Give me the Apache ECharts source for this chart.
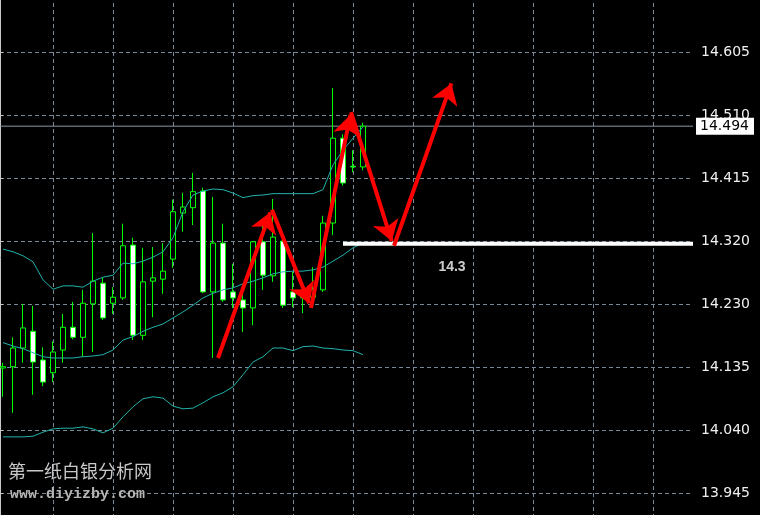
<!DOCTYPE html>
<html><head><meta charset="utf-8">
<script src="https://cdn.jsdelivr.net/npm/echarts@6.0.0/dist/echarts.min.js"></script>
<style>html,body{margin:0;padding:0;background:#000}#c{width:760px;height:515px}</style>
</head><body><div id="c"></div>
<script>
// ---- data ----
const slotCount = 70; // bar slots across the plot (37 bars + empty future space)
const candleOpen  = [14.132,14.134,14.162,14.187,14.144,14.125,14.159,14.193,14.178,14.228,14.259,14.229,14.237,14.316,14.181,14.262,14.265,14.295,14.364,14.372,14.397,14.246,14.319,14.246,14.234,14.222,14.321,14.270,14.322,14.246,14.237,14.238,14.249,14.349,14.476,14.434,14.433];
const candleClose = [14.134,14.162,14.192,14.141,14.111,14.156,14.193,14.178,14.229,14.262,14.207,14.238,14.315,14.181,14.261,14.267,14.277,14.366,14.373,14.396,14.246,14.319,14.234,14.237,14.222,14.321,14.271,14.328,14.226,14.237,14.238,14.249,14.349,14.476,14.409,14.433,14.494];
const candleLow   = [14.089,14.065,14.140,14.092,14.105,14.111,14.140,14.175,14.149,14.156,14.204,14.213,14.234,14.174,14.174,14.208,14.243,14.282,14.336,14.346,14.244,14.147,14.231,14.222,14.186,14.196,14.249,14.261,14.222,14.223,14.214,14.234,14.246,14.331,14.405,14.425,14.428];
const candleHigh  = [14.140,14.178,14.228,14.225,14.163,14.172,14.213,14.231,14.249,14.334,14.267,14.253,14.348,14.327,14.312,14.313,14.319,14.384,14.394,14.424,14.402,14.388,14.348,14.288,14.243,14.322,14.351,14.385,14.328,14.276,14.246,14.283,14.360,14.551,14.482,14.458,14.499];
const bandUpper   = [14.310,14.306,14.300,14.291,14.264,14.250,14.255,14.255,14.253,14.262,14.268,14.271,14.289,14.288,14.292,14.298,14.306,14.327,14.366,14.391,14.397,14.400,14.399,14.394,14.387,14.390,14.391,14.393,14.393,14.393,14.393,14.393,14.399,14.436,14.458,14.476,14.493];
const bandMiddle  = [14.170,14.165,14.161,14.155,14.149,14.147,14.147,14.147,14.149,14.150,14.152,14.159,14.174,14.179,14.187,14.193,14.198,14.207,14.216,14.226,14.237,14.244,14.249,14.252,14.258,14.262,14.267,14.273,14.276,14.277,14.277,14.279,14.283,14.292,14.301,14.312,14.319];
const bandLower   = [14.029,14.029,14.029,14.030,14.036,14.041,14.042,14.042,14.044,14.041,14.035,14.042,14.059,14.074,14.086,14.089,14.087,14.075,14.071,14.072,14.080,14.089,14.095,14.104,14.122,14.141,14.149,14.162,14.162,14.158,14.164,14.165,14.162,14.161,14.159,14.158,14.152];
const yTickLabels = ['13.945','14.040','14.135','14.230','14.320','14.415','14.510','14.605'];
const lastPrice = 14.494;
const supportLevel = 14.318;
const supportStart = 34.0;
const supportText = '14.3';
const supportTextPos = [44.9, 14.283];
// arrow segments: [bar position, price] start -> end
const arrowSegments = [
  [[21.5, 14.147], [26.73, 14.365]],
  [[26.9, 14.369], [30.62, 14.229]],
  [[30.8, 14.222], [34.74, 14.511]],
  [[34.8, 14.515], [38.87, 14.322]],
  [[39.1, 14.315], [44.84, 14.558]]
];
const watermarkTitle = '第一纸白银分析网';
const watermarkUrl = 'www.diyizby.com';

// ---- axis scale ----
const yStep = (14.605 - 13.945) / 7;
const yMin = 13.945 - yStep;
const yMax = 14.605 + yStep;

const slots = Array.from({length: slotCount}, (_, i) => 'b' + i);
const candles = candleOpen.map((o, i) => [o, candleClose[i], candleLow[i], candleHigh[i]]);

const gridCommon = {top: -11, bottom: -41, containLabel: false, outerBoundsMode: 'none'};
const gridColor = '#778899';
const font = 'DejaVu Sans';

const chart = echarts.init(document.getElementById('c'), null, {renderer: 'canvas'});
chart.setOption({
  backgroundColor: '#000',
  animation: false,
  grid: [
    Object.assign({left: 3, right: 67}, gridCommon),
    Object.assign({left: 0, right: 67}, gridCommon),
    Object.assign({left: -7, right: 67}, gridCommon)
  ],
  xAxis: [
    {type: 'category', gridIndex: 0, data: slots, boundaryGap: false, show: false},
    {type: 'value', gridIndex: 1, min: 0, max: 1, show: false},
    {type: 'value', gridIndex: 2, min: -1, max: slotCount - 1, interval: 6,
     axisLine: {show: false}, axisTick: {show: false}, axisLabel: {show: false},
     splitLine: {show: true, showMinLine: false, showMaxLine: false, lineStyle: {color: gridColor, type: [4, 3], width: 1}}}
  ],
  yAxis: [
    {type: 'value', gridIndex: 0, min: yMin, max: yMax, show: false},
    {type: 'value', gridIndex: 1, position: 'right', min: yMin, max: yMax, interval: yStep,
     axisLine: {show: true, lineStyle: {color: '#c8c8c8', width: 1}},
     axisTick: {show: true, length: 3, lineStyle: {color: '#c8c8c8'}},
     axisLabel: {show: true, margin: 8, color: '#f0f0f0', fontFamily: font, fontSize: 14,
       formatter: v => yTickLabels[Math.round((v - yMin) / yStep) - 1] || ''},
     splitLine: {show: true, lineStyle: {color: gridColor, type: [4, 3], width: 1}}},
    {type: 'value', gridIndex: 2, min: yMin, max: yMax, show: false}
  ],
  graphic: [
    {type: 'text', x: 8, y: 471, z: 100,
     style: {text: watermarkTitle, fill: '#c8c8c8', font: '18px "Noto Sans CJK SC"', verticalAlign: 'middle'}},
    {type: 'text', x: 10, y: 494, z: 100,
     style: {text: watermarkUrl, fill: '#b4b4b4', font: 'bold 15px "Liberation Mono"', verticalAlign: 'middle'}}
  ],
  series: [
    {type: 'candlestick', xAxisIndex: 0, yAxisIndex: 0, data: candles, barWidth: 5, z: 2,
     itemStyle: {color: '#000', color0: '#fff', borderColor: '#00ff00', borderColor0: '#00ff00', borderColorDoji: '#00ff00', borderWidth: 1}},
    {type: 'line', xAxisIndex: 0, yAxisIndex: 0, data: bandUpper, symbol: 'none', z: 3,
     lineStyle: {color: '#20b2aa', width: 1}},
    {type: 'line', xAxisIndex: 0, yAxisIndex: 0, data: bandMiddle, symbol: 'none', z: 3,
     lineStyle: {color: '#20b2aa', width: 1}},
    {type: 'line', xAxisIndex: 0, yAxisIndex: 0, data: bandLower, symbol: 'none', z: 3,
     lineStyle: {color: '#20b2aa', width: 1}},
    {type: 'line', xAxisIndex: 1, yAxisIndex: 1, data: [[0, lastPrice], [1, lastPrice]], symbol: 'none', z: 1,
     lineStyle: {color: '#8c9aa8', width: 1},
     endLabel: {show: true, formatter: lastPrice.toFixed(3), distance: 3, color: '#000', backgroundColor: '#fff',
       fontFamily: font, fontSize: 14, padding: [2, 5, 1, 4]}},
    {type: 'line', xAxisIndex: 2, yAxisIndex: 2, data: [[supportStart, supportLevel], [slotCount - 1, supportLevel]],
     symbol: 'none', z: 4, lineStyle: {color: '#ffffff', width: 4}},
    {type: 'lines', coordinateSystem: 'cartesian2d', xAxisIndex: 2, yAxisIndex: 2, z: 5,
     symbol: ['none', 'arrow'], symbolSize: [15, 20],
     lineStyle: {color: '#ff0000', width: 4, opacity: 1, curveness: 0},
     data: arrowSegments.map(s => ({coords: s}))},
    {type: 'scatter', xAxisIndex: 2, yAxisIndex: 2, data: [supportTextPos], symbolSize: 1, z: 6,
     itemStyle: {color: 'rgba(0,0,0,0)'},
     label: {show: true, position: 'inside', formatter: supportText, color: '#fff', fontWeight: 'bold',
       fontSize: 14, fontFamily: 'Liberation Sans'}}
  ]
});
</script></body></html>
